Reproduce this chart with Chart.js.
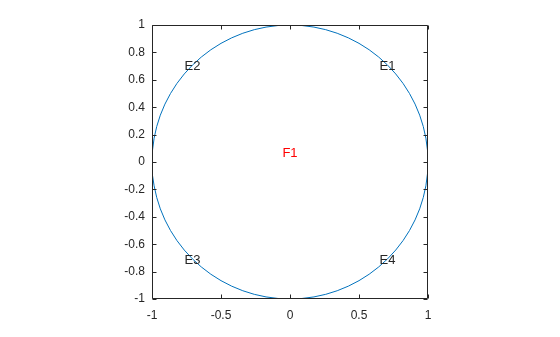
<!DOCTYPE html>
<html><head><meta charset="utf-8">
<script src="https://cdn.jsdelivr.net/npm/chart.js@4"></script>
<style>html,body{margin:0;padding:0;background:#fff}canvas{display:block}</style>
</head><body>
<canvas id="c" width="560" height="337"></canvas>
<script>
// Circle outline sampled every 5 degrees
const circleX = [1, .9962, .9848, .9659, .9397, .9063, .8660, .8192, .7660, .7071, .6428, .5736, .5, .4226, .3420, .2588, .1736, .0872, 0,
  -.0872, -.1736, -.2588, -.3420, -.4226, -.5, -.5736, -.6428, -.7071, -.7660, -.8192, -.8660, -.9063, -.9397, -.9659, -.9848, -.9962, -1,
  -.9962, -.9848, -.9659, -.9397, -.9063, -.8660, -.8192, -.7660, -.7071, -.6428, -.5736, -.5, -.4226, -.3420, -.2588, -.1736, -.0872, 0,
  .0872, .1736, .2588, .3420, .4226, .5, .5736, .6428, .7071, .7660, .8192, .8660, .9063, .9397, .9659, .9848, .9962, 1];
const circleY = [0, .0872, .1736, .2588, .3420, .4226, .5, .5736, .6428, .7071, .7660, .8192, .8660, .9063, .9397, .9659, .9848, .9962, 1,
  .9962, .9848, .9659, .9397, .9063, .8660, .8192, .7660, .7071, .6428, .5736, .5, .4226, .3420, .2588, .1736, .0872, 0,
  -.0872, -.1736, -.2588, -.3420, -.4226, -.5, -.5736, -.6428, -.7071, -.7660, -.8192, -.8660, -.9063, -.9397, -.9659, -.9848, -.9962, -1,
  -.9962, -.9848, -.9659, -.9397, -.9063, -.8660, -.8192, -.7660, -.7071, -.6428, -.5736, -.5, -.4226, -.3420, -.2588, -.1736, -.0872, 0];
const xTicks = [-1, -0.5, 0, 0.5, 1];
const yTicks = [-1, -0.8, -0.6, -0.4, -0.2, 0, 0.2, 0.4, 0.6, 0.8, 1];
const labelNames = ['E1', 'E2', 'E3', 'E4', 'F1'];
const labelX = [0.707, -0.707, -0.707, 0.707, 0];
const labelY = [0.707, 0.707, -0.707, -0.707, 0.07];
const labelColors = ['#262626', '#262626', '#262626', '#262626', '#ff0000'];

const FONT = "'Liberation Sans', Arial, Helvetica, sans-serif";
const AX = '#262626';

const boxPlugin = {
  id: 'box',
  afterDatasetsDraw(chart) {
    const ctx = chart.ctx, a = chart.chartArea;
    const xs = chart.scales.x, ys = chart.scales.y;
    ctx.save();
    ctx.strokeStyle = AX;
    ctx.lineWidth = 1;
    const L = Math.round(a.left) + 0.5, R = Math.round(a.right) - 0.5;
    const T = Math.round(a.top) + 0.5, B = Math.round(a.bottom) - 0.5;
    ctx.beginPath();
    ctx.rect(L, T, R - L, B - T);
    const tl = 4;
    xTicks.forEach(v => {
      const px = Math.round(xs.getPixelForValue(v)) + 0.5;
      ctx.moveTo(px, B); ctx.lineTo(px, B - tl);
      ctx.moveTo(px, T); ctx.lineTo(px, T + tl);
    });
    yTicks.forEach(v => {
      const py = Math.round(ys.getPixelForValue(v)) + 0.5;
      ctx.moveTo(L, py); ctx.lineTo(L + tl, py);
      ctx.moveTo(R, py); ctx.lineTo(R - tl, py);
    });
    ctx.stroke();
    const fs = 13;
    ctx.font = fs + 'px ' + FONT;
    ctx.textAlign = 'center';
    ctx.textBaseline = 'alphabetic';
    labelNames.forEach((n, i) => {
      ctx.fillStyle = labelColors[i];
      ctx.fillText(n, xs.getPixelForValue(labelX[i]), ys.getPixelForValue(labelY[i]) + 0.36 * fs);
    });
    ctx.restore();
  }
};

const fmt = v => String(Number(Number(v).toFixed(2)));

new Chart(document.getElementById('c'), {
  type: 'scatter',
  data: {
    datasets: [{
      data: circleX.map((x, i) => ({x: x, y: circleY[i]})),
      showLine: true,
      borderColor: '#0072BD',
      borderWidth: 1,
      pointRadius: 0,
      pointHoverRadius: 0,
      fill: false,
      tension: 0
    }]
  },
  options: {
    responsive: false,
    animation: false,
    devicePixelRatio: 1,
    layout: {padding: {left: 0, right: 132, top: 25, bottom: 0}},
    plugins: {legend: {display: false}, tooltip: {enabled: false}},
    scales: {
      x: {
        type: 'linear', min: -1, max: 1,
        afterBuildTicks: s => { s.ticks = xTicks.map(v => ({value: v})); },
        afterFit: s => { s.height = 38; },
        grid: {display: false, drawTicks: false},
        border: {display: false},
        ticks: {color: AX, font: {family: FONT, size: 12}, padding: 9, maxRotation: 0, autoSkip: false, callback: fmt}
      },
      y: {
        type: 'linear', min: -1, max: 1,
        afterBuildTicks: s => { s.ticks = yTicks.map(v => ({value: v})); },
        afterFit: s => { s.width = 152; },
        grid: {display: false, drawTicks: false},
        border: {display: false},
        ticks: {color: AX, font: {family: FONT, size: 12}, padding: 7, autoSkip: false, callback: fmt}
      }
    }
  },
  plugins: [boxPlugin]
});
</script>
</body></html>
